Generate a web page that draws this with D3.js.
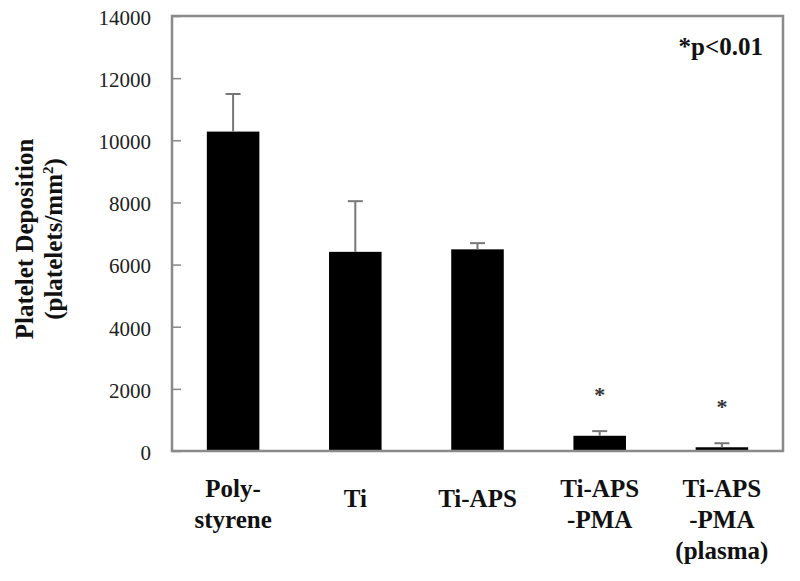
<!DOCTYPE html>
<html>
<head>
<meta charset="utf-8">
<script src="https://cdn.jsdelivr.net/npm/d3@7"></script>
<style>
  body { margin: 0; background: #fff; }
</style>
</head>
<body>
<svg id="chart" width="800" height="581"></svg>
<script>
// values
var categories = ["Poly-|styrene", "Ti", "Ti-APS", "Ti-APS|-PMA", "Ti-APS|-PMA|(plasma)"];
var means = [10280, 6410, 6490, 490, 120];
var errors = [1210, 1630, 200, 150, 130];
var significant = [false, false, false, true, true];
var yTicks = [0, 2000, 4000, 6000, 8000, 10000, 12000, 14000];

var serif = "Liberation Serif";

var margin = { top: 16, right: 17, bottom: 130, left: 172 },
    width = 800 - margin.left - margin.right,
    height = 581 - margin.top - margin.bottom;

var svg = d3.select("#chart");
var g = svg.append("g")
    .attr("transform", "translate(" + margin.left + "," + margin.top + ")");

var x = d3.scaleBand()
    .domain(categories)
    .range([0, width])
    .paddingInner(0.57)
    .paddingOuter(0.285);

var y = d3.scaleLinear()
    .domain([0, 14000])
    .range([height, 0]);

// bars
g.selectAll("rect.bar").data(means).enter().append("rect")
    .attr("class", "bar")
    .attr("x", function (d, i) { return x(categories[i]); })
    .attr("width", x.bandwidth())
    .attr("y", function (d) { return y(d); })
    .attr("height", function (d) { return height - y(d); })
    .attr("fill", "#000");

// error bars (upper only)
var eb = g.selectAll("g.err").data(means).enter().append("g")
    .attr("class", "err")
    .attr("transform", function (d, i) { return "translate(" + (x(categories[i]) + x.bandwidth() / 2) + ",0)"; })
    .attr("stroke", "#777")
    .attr("stroke-width", 2);
eb.append("line")
    .attr("y1", function (d) { return y(d); })
    .attr("y2", function (d, i) { return y(d + errors[i]); });
eb.append("line")
    .attr("x1", -7.5).attr("x2", 7.5)
    .attr("y1", function (d, i) { return y(d + errors[i]); })
    .attr("y2", function (d, i) { return y(d + errors[i]); });

// significance stars
means.forEach(function (d, i) {
    if (!significant[i]) return;
    g.append("text")
        .attr("x", x(categories[i]) + x.bandwidth() / 2)
        .attr("y", y(d + errors[i]) - 29)
        .attr("text-anchor", "middle")
        .attr("font-family", serif)
        .attr("font-size", 22)
        .attr("font-weight", "bold")
        .attr("fill", "#333")
        .text("*");
});

// y axis, ticks pointing inward
var yAxis = d3.axisLeft(y)
    .tickValues(yTicks)
    .tickSize(-9)
    .tickPadding(21)
    .tickFormat(d3.format("d"));

var ya = g.append("g").call(yAxis)
    .attr("font-family", serif)
    .attr("font-size", 21);
ya.select(".domain").remove();
ya.selectAll(".tick line").attr("stroke", "#888").attr("stroke-width", 1.5);
ya.selectAll(".tick text").attr("fill", "#222").attr("dy", "0.4em");

// plot frame
g.append("rect")
    .attr("width", width)
    .attr("height", height)
    .attr("fill", "none")
    .attr("stroke", "#8a8a8a")
    .attr("stroke-width", 2.5);

// category labels
g.selectAll("text.cat").data(categories).enter().append("text")
    .attr("class", "cat")
    .attr("text-anchor", "middle")
    .attr("font-family", serif)
    .attr("font-size", 25)
    .attr("font-weight", "bold")
    .attr("fill", "#111")
    .each(function (d) {
        var lines = d.split("|");
        var t = d3.select(this);
        var base = lines.length === 1 ? height + 56 : height + 46;
        lines.forEach(function (l, k) {
            t.append("tspan")
                .attr("x", x(d) + x.bandwidth() / 2)
                .attr("y", base + k * 31)
                .text(l);
        });
    });

// y axis title
var yt = svg.append("text")
    .attr("transform", "translate(33,239) rotate(-90)")
    .attr("text-anchor", "middle")
    .attr("font-family", serif)
    .attr("font-size", 25)
    .attr("font-weight", "bold")
    .attr("fill", "#111");
yt.append("tspan").attr("x", 0).attr("y", 0).text("Platelet Deposition");
yt.append("tspan").attr("x", 0).attr("y", 29).text("(platelets/mm");
yt.append("tspan").attr("dy", -9).attr("font-size", 15).text("2");
yt.append("tspan").attr("dy", 9).text(")");

// p-value note
svg.append("text")
    .attr("x", 763)
    .attr("y", 55)
    .attr("text-anchor", "end")
    .attr("font-family", serif)
    .attr("font-size", 25)
    .attr("font-weight", "bold")
    .attr("fill", "#111")
    .text("*p<0.01");
</script>
</body>
</html>
